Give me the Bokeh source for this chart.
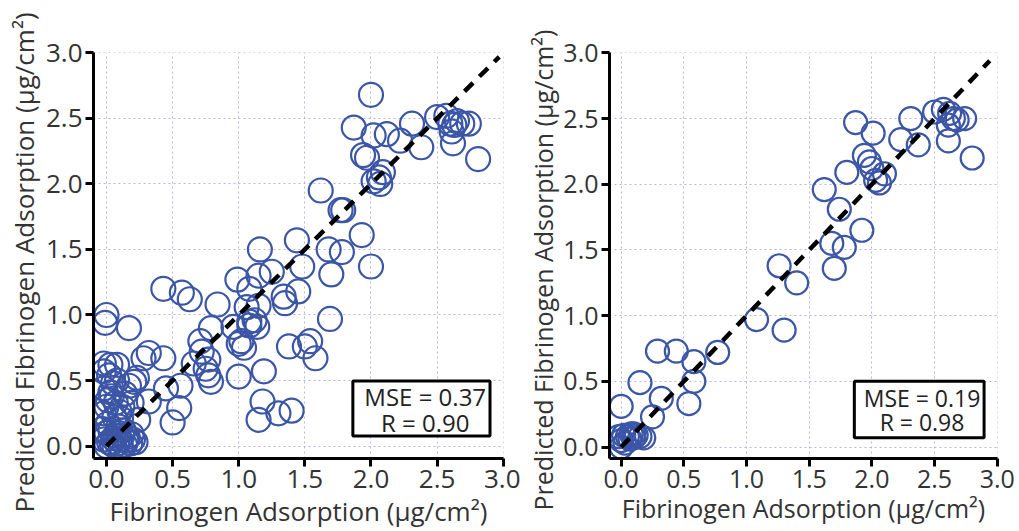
from bokeh.plotting import figure
from bokeh.layouts import row
from bokeh.models import Range1d, FixedTicker, PrintfTickFormatter, BoxAnnotation, Label, Title
from bokeh.embed import file_html
from bokeh.resources import INLINE

ticks = [0.0, 0.5, 1.0, 1.5, 2.0, 2.5, 3.0]
x_title = "Fibrinogen Adsorption (µg/cm²)"
y_title = "Predicted Fibrinogen Adsorption (µg/cm²)"

left_x = [2.00, 1.87, 2.02, 2.12, 2.22, 2.31, 2.38, 2.50, 2.57, 2.60, 2.63, 2.69, 2.74, 2.61, 2.62, 2.81, 2.65,
          1.94, 1.97, 2.09, 2.06, 2.07, 2.02, 1.62, 1.77, 1.79, 1.93, 1.68, 1.78, 2.00, 1.70, 1.69,
          1.44, 1.48, 1.45, 1.35, 1.34, 1.25, 1.16, 1.15, 1.08, 0.99, 1.15, 1.06, 1.08, 1.14, 1.08, 0.96,
          1.02, 1.04, 1.00, 1.12, 0.84, 0.79, 0.71, 0.72, 0.77, 0.66, 0.75, 0.77, 0.79, 1.00, 1.19, 1.18,
          1.15, 1.30, 1.40, 1.38, 1.50, 1.54, 1.58, 0.43, 0.57, 0.63, 0.00, -0.01, 0.17, 0.32, 0.28, 0.43,
          0.45, 0.56, 0.55, 0.50, 0.32, 0.24, 0.21, 0.17, 0.08, -0.02, -0.02, 0.02, 0.08, -0.02, 0.03, 0.01,
          0.07, -0.02, 0.06, 0.11, 0.14, 0.19, 0.23, 0.10, 0.03, 0.05, 0.00, 0.04, 0.12,
          0.00, 0.02, 0.05, 0.08, 0.10, 0.12, 0.15, 0.18, 0.20, 0.22, -0.02, 0.00, 0.03, 0.06, 0.09, 0.11,
          0.13, 0.16, 0.19, 0.07, 0.04, 0.14, -0.03, 0.01, 0.09]
left_y = [2.68, 2.43, 2.37, 2.38, 2.33, 2.46, 2.28, 2.51, 2.52, 2.46, 2.45, 2.46, 2.46, 2.40, 2.31, 2.19, 2.48,
          2.22, 2.20, 2.09, 2.05, 2.00, 2.02, 1.95, 1.80, 1.80, 1.61, 1.50, 1.48, 1.37, 1.31, 0.97,
          1.57, 1.37, 1.18, 1.09, 1.14, 1.33, 1.50, 1.30, 1.20, 1.27, 1.07, 1.06, 0.92, 0.91, 0.95, 0.91,
          0.80, 0.75, 0.78, 0.96, 1.08, 0.90, 0.80, 0.72, 0.66, 0.63, 0.59, 0.54, 0.49, 0.53, 0.57, 0.34,
          0.20, 0.25, 0.27, 0.76, 0.76, 0.80, 0.67, 1.20, 1.17, 1.12, 1.00, 0.94, 0.90, 0.71, 0.67, 0.67,
          0.44, 0.46, 0.29, 0.18, 0.34, 0.20, 0.49, 0.46, 0.62, 0.63, 0.57, 0.54, 0.50, 0.44, 0.41, 0.35,
          0.33, 0.25, 0.22, 0.21, 0.40, 0.33, 0.52, 0.26, 0.62, 0.48, 0.30, 0.38, 0.30,
          0.00, 0.03, 0.06, 0.02, 0.05, 0.08, 0.04, 0.02, 0.05, 0.03, 0.05, 0.10, 0.12, 0.00, 0.10, 0.00,
          0.12, 0.07, 0.09, 0.08, 0.02, 0.01, 0.13, 0.17, 0.15]

right_x = [1.87, 2.01, 2.31, 2.23, 2.37, 2.50, 2.57, 2.62, 2.65, 2.74, 2.68, 2.61, 2.61, 2.80, 1.94, 1.98,
           2.00, 2.10, 2.06, 2.03, 1.80, 1.62, 1.74, 1.92, 1.68, 1.78, 1.70, 1.26, 1.40, 1.08, 1.30,
           0.29, 0.44, 0.58, 0.77, 0.15, 0.58, 0.32, 0.54, 0.25, 0.00,
           0.00, 0.02, 0.05, 0.08, 0.10, 0.12, 0.15, 0.18, 0.00, 0.03, 0.07, 0.10, -0.02]
right_y = [2.47, 2.39, 2.50, 2.34, 2.30, 2.55, 2.57, 2.54, 2.50, 2.50, 2.49, 2.45, 2.33, 2.20, 2.22, 2.17,
           2.12, 2.08, 2.01, 2.03, 2.09, 1.96, 1.81, 1.65, 1.55, 1.52, 1.36, 1.38, 1.25, 0.97, 0.89,
           0.73, 0.73, 0.65, 0.72, 0.49, 0.50, 0.37, 0.33, 0.23, 0.31,
           0.05, 0.09, 0.08, 0.10, 0.07, 0.09, 0.08, 0.07, 0.00, 0.03, 0.06, 0.10, 0.08]

left_stats = ["MSE = 0.37", "R = 0.90"]
right_stats = ["MSE = 0.19", "R = 0.98"]
left_identity = [0.0, 2.97]
right_identity = [0.0, 2.94]

FONT = "Open Sans"
BLUE = "#3b56a6"
GRID = "#b4b6e4"


def panel(xs, ys, stats, ident, width, mb, xr, yr, fs, msize, ytitle_offset, xlab_standoff, box, stat_pos):
    p = figure(width=width, height=531, output_backend="svg", toolbar_location=None,
               x_range=Range1d(*xr), y_range=Range1d(*yr),
               min_border_left=mb[0], min_border_right=mb[1], min_border_top=mb[2], min_border_bottom=mb[3])
    p.outline_line_color = None
    p.background_fill_color = "white"
    p.border_fill_color = "white"
    for ax in (p.xaxis[0], p.yaxis[0]):
        ax.ticker = FixedTicker(ticks=ticks)
        ax.formatter = PrintfTickFormatter(format="%.1f")
        ax.axis_line_width = 3
        ax.axis_line_color = "black"
        ax.major_tick_line_width = 3
        ax.major_tick_line_color = "black"
        ax.major_tick_out = 8
        ax.major_tick_in = 0
        ax.minor_tick_out = 0
        ax.minor_tick_in = 0
        ax.major_label_text_font = FONT
        ax.major_label_text_font_size = f"{fs}px"
        ax.major_label_text_color = "#333333"
        ax.major_label_standoff = 3
    xa = p.xaxis[0]
    xa.axis_label = x_title
    xa.axis_label_text_font = FONT
    xa.axis_label_text_font_size = f"{fs}px"
    xa.axis_label_text_font_style = "normal"
    xa.axis_label_text_color = "#333333"
    xa.axis_label_standoff = xlab_standoff

    for g in (p.xgrid[0], p.ygrid[0]):
        g.ticker = FixedTicker(ticks=ticks)
        g.grid_line_color = GRID
        g.grid_line_dash = "2 3"
        g.grid_line_width = 1

    p.scatter(xs, ys, marker="circle", size=msize, fill_color=None, line_color=BLUE, line_width=2.2)
    p.line(ident, ident, line_color="black", line_width=4.5, line_dash="12 9")

    p.add_layout(BoxAnnotation(left=box[0], right=box[1], bottom=box[2], top=box[3],
                               fill_color="white", fill_alpha=1.0, line_color="black", line_width=3,
                               line_alpha=1.0))
    p.add_layout(Label(x=stat_pos[0], y=stat_pos[1], text=stats[0], text_font=FONT,
                       text_font_size=f"{fs - 2}px", text_align="center", text_baseline="middle",
                       text_color="#222222"))
    p.add_layout(Label(x=stat_pos[0], y=stat_pos[2], text=stats[1], text_font=FONT,
                       text_font_size=f"{fs - 2}px", text_align="center", text_baseline="middle",
                       text_color="#222222"))
    p.add_layout(Title(text=y_title, align="left", offset=ytitle_offset, standoff=0,
                       vertical_align="middle", text_font=FONT, text_font_size=f"{fs}px",
                       text_font_style="normal", text_color="#333333"), "left")
    return p


p1 = panel(left_x, left_y, left_stats, left_identity, 520, (93, 17, 24, 72),
           (-0.098, 3.002), (-0.095, 3.003), 26, 24, -54, 2,
           (1.863, 2.900, 0.076, 0.496), (2.41, 0.375, 0.178))
p2 = panel(right_x, right_y, right_stats, right_identity, 499, (89, 22, 52, 68),
           (-0.093, 3.002), (-0.087, 3.003), 25, 23, -52, 0,
           (1.860, 2.895, 0.070, 0.500), (2.40, 0.375, 0.1875))

layout = row(p1, p2)
open("out.html", "w").write(file_html(layout, INLINE))
